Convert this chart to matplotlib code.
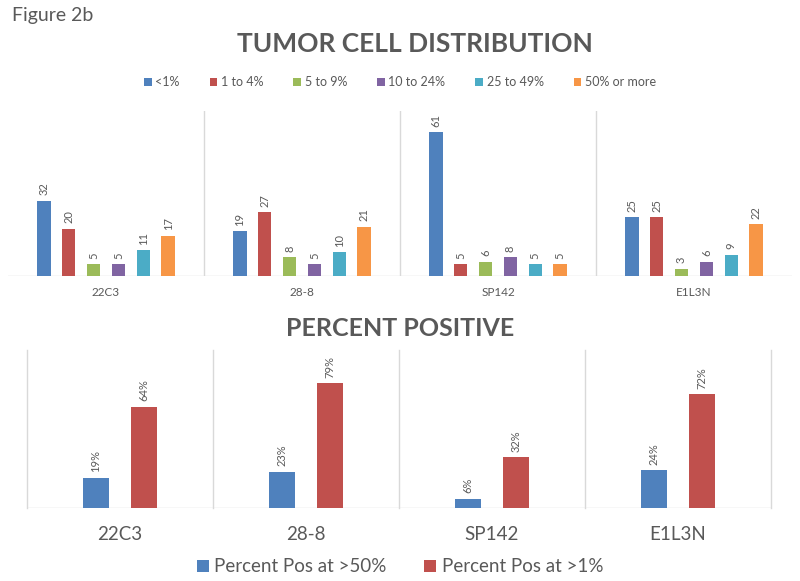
import matplotlib
matplotlib.use("Agg")
import matplotlib.pyplot as plt
import numpy as np

plt.rcParams['font.family'] = ['Lato', 'DejaVu Sans']

antibodies = ["22C3", "28-8", "SP142", "E1L3N"]
dist_labels = ["<1%", "1 to 4%", "5 to 9%", "10 to 24%", "25 to 49%", "50% or more"]
dist_lt1 = [32, 19, 61, 25]
dist_1to4 = [20, 27, 5, 25]
dist_5to9 = [5, 8, 6, 3]
dist_10to24 = [5, 5, 8, 6]
dist_25to49 = [11, 10, 5, 9]
dist_50plus = [17, 21, 5, 22]

pos_labels = ["Percent Pos at >50%", "Percent Pos at >1%"]
pos_gt50 = [19, 23, 6, 24]
pos_gt1 = [64, 79, 32, 72]

dist_colors = ["#4F81BD", "#C0504D", "#9BBB59", "#8064A2", "#4BACC6", "#F79646"]
pos_colors = ["#4F81BD", "#C0504D"]
text_gray = "#595959"
grid_gray = "#D9D9D9"

W, H = 800, 581
fig = plt.figure(figsize=(W / 100, H / 100), dpi=100)

fig.text(12 / W, 1 - 16 / H, "Figure 2b", fontsize=14, color="#595959",
         ha="left", va="center")
fig.text(415 / W, 1 - 44 / H, "TUMOR CELL DISTRIBUTION", fontsize=19,
         fontweight="bold", color=text_gray, ha="center", va="center")
fig.text(0.5, 1 - 329 / H, "PERCENT POSITIVE", fontsize=18,
         fontweight="bold", color=text_gray, ha="center", va="center")

# ---- top chart
ax1 = fig.add_axes([8 / W, 1 - 276 / H, 784 / W, 165 / H])
series = [dist_lt1, dist_1to4, dist_5to9, dist_10to24, dist_25to49, dist_50plus]
x = np.arange(len(antibodies))
bw = 0.069
step = 0.127
handles = []
for k, vals in enumerate(series):
    off = (k - 2.5) * step
    b = ax1.bar(x + off, vals, width=bw, color=dist_colors[k], label=dist_labels[k], zorder=3)
    handles.append(b)
    for xi, v in zip(x + off, vals):
        ax1.annotate(str(v), (xi, v), xytext=(0, 4), textcoords="offset points",
                     rotation=90, ha="center", va="bottom", fontsize=8, color=text_gray)
ax1.set_xlim(-0.5, 3.5)
ax1.set_ylim(0, 70)
for s in ax1.spines.values():
    s.set_visible(False)
ax1.axhline(0, color=grid_gray, lw=1, zorder=2)
for b in [0.5, 1.5, 2.5]:
    ax1.axvline(b, color=grid_gray, lw=1, zorder=1)
ax1.set_yticks([])
ax1.set_xticks(x)
ax1.set_xticklabels(antibodies, fontsize=8.5, color=text_gray)
ax1.tick_params(axis="x", length=0, pad=8)

fig.legend(handles, dist_labels, loc="center", bbox_to_anchor=(0.5, 1 - 82 / H),
           ncol=6, frameon=False, fontsize=9, handlelength=0.6, handleheight=0.6,
           handletextpad=0.3, columnspacing=2.4, labelcolor=text_gray)

# ---- bottom chart
ax2 = fig.add_axes([27 / W, 1 - 508 / H, 744 / W, 158 / H])
bw2 = 0.14
off2 = 0.13
b1 = ax2.bar(x - off2, pos_gt50, width=bw2, color=pos_colors[0], zorder=3)
b2 = ax2.bar(x + off2, pos_gt1, width=bw2, color=pos_colors[1], zorder=3)
for xs, vals in [(x - off2, pos_gt50), (x + off2, pos_gt1)]:
    for xi, v in zip(xs, vals):
        ax2.annotate(f"{v}%", (xi, v), xytext=(0, 4), textcoords="offset points",
                     rotation=90, ha="center", va="bottom", fontsize=8, color=text_gray)
ax2.set_xlim(-0.5, 3.5)
ax2.set_ylim(0, 100)
for s in ax2.spines.values():
    s.set_visible(False)
ax2.axhline(0, color=grid_gray, lw=1, zorder=2)
for b in [-0.5, 0.5, 1.5, 2.5, 3.5]:
    ax2.axvline(b, color=grid_gray, lw=1, zorder=1, clip_on=False)
ax2.set_yticks([])
ax2.set_xticks(x)
ax2.set_xticklabels(antibodies, fontsize=13.5, color=text_gray)
ax2.tick_params(axis="x", length=0, pad=13)

fig.legend([b1, b2], pos_labels, loc="center", bbox_to_anchor=(0.5, 1 - 567 / H),
           ncol=2, frameon=False, fontsize=13.5, handlelength=0.65, handleheight=0.65,
           handletextpad=0.3, columnspacing=2.0, labelcolor=text_gray)

fig.savefig("out.png", dpi=100, facecolor="white")
